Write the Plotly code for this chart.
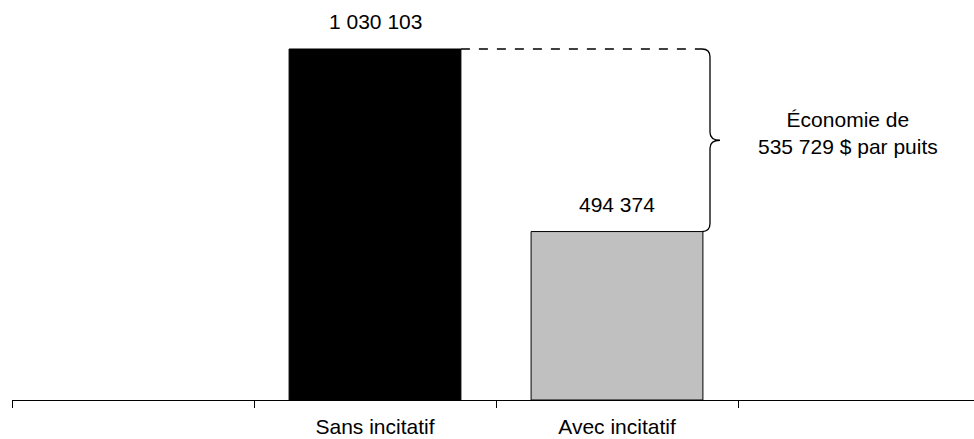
import plotly.graph_objects as go

categories = ["Sans incitatif", "Avec incitatif"]
values = [1030103, 494374]
all_categories = [" ", "Sans incitatif", "Avec incitatif", "  "]
bar_colors = ["#000000", "#C0C0C0"]

def fmt(v):
    return f"{v:,}".replace(",", " ")

W, H = 974, 439
ml, mr, mt, mb = 12, 0, 10, 39
plot_h = H - mt - mb
plot_w = W - ml - mr
cat_px = 242.0
ymax = values[0] * plot_h / 351.0

def px_to_x(px):  # page pixel -> category-index coordinate
    return (px - ml) / cat_px - 0.5

def px_h_to_y(h):
    return h * ymax / plot_h

font = dict(family="Liberation Sans, Arial, sans-serif", size=21, color="#000000")

fig = go.Figure()
fig.add_trace(go.Bar(
    x=categories, y=values, width=0.71,
    marker=dict(color=bar_colors, line=dict(color="#000000", width=1)),
    hoverinfo="skip", showlegend=False,
))

for c, v in zip(categories, values):
    fig.add_annotation(x=c, y=v, text=fmt(v), showarrow=False,
                       yanchor="bottom", yshift=14, font=font)

top, bot = values[0], values[1]
mid = (top + bot) / 2
xb0 = px_to_x(702)
xb1 = px_to_x(710)
xt = px_to_x(720)
r = px_h_to_y(8)

fig.add_shape(type="line", xref="x", yref="y",
              x0=1 + 0.355, x1=xb0, y0=top, y1=top,
              line=dict(color="#000000", width=1.3, dash="dash"))

path = (f"M {xb0},{top} Q {xb1},{top} {xb1},{top - r} "
        f"L {xb1},{mid + r} Q {xb1},{mid} {xt},{mid} "
        f"Q {xb1},{mid} {xb1},{mid - r} "
        f"L {xb1},{bot + r} Q {xb1},{bot} {xb0},{bot}")
fig.add_shape(type="path", xref="x", yref="y", path=path,
              line=dict(color="#000000", width=1.3))

saving = values[0] - values[1]
tx = px_to_x(848)
fig.add_annotation(x=tx, y=mid, text=f"Économie de<br>{fmt(saving)} $ par puits",
                   showarrow=False, yanchor="middle", yshift=7, font=font)

fig.update_layout(
    width=W, height=H,
    margin=dict(l=ml, r=mr, t=mt, b=mb),
    paper_bgcolor="#FFFFFF", plot_bgcolor="#FFFFFF",
    font=font,
)
fig.update_xaxes(
    type="category", categoryorder="array", categoryarray=all_categories,
    range=[-0.5, -0.5 + plot_w / cat_px],
    tickson="boundaries", ticks="outside", ticklen=7, tickcolor="#000000",
    tickwidth=1, showline=True, linecolor="#000000", linewidth=1,
    showgrid=False, zeroline=False, tickfont=font, ticklabelstandoff=8,
)
fig.update_yaxes(range=[0, ymax], visible=False, showgrid=False, zeroline=False)

fig.write_html(
    "out.html",
    config={"displayModeBar": False},
    post_script="document.body.style.margin='0';document.documentElement.style.overflow='hidden';",
)
